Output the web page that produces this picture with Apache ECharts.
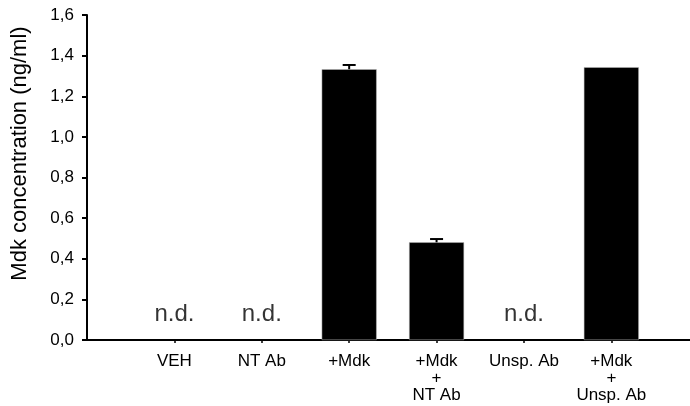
<!DOCTYPE html>
<html>
<head>
<meta charset="utf-8">
<script src="https://cdn.jsdelivr.net/npm/echarts@6/dist/echarts.min.js"></script>
<style>
  html, body { margin: 0; padding: 0; background: #fff; }
  #main { width: 690px; height: 406px; }
</style>
</head>
<body>
<div id="main"></div>
<script>
// groups along the x axis
var categories = ['VEH', 'NT Ab', '+Mdk', '+Mdk\n+\nNT Ab', 'Unsp. Ab', '+Mdk\n+\nUnsp. Ab'];
// Mdk concentration (ng/ml), null = not detected
var means = [null, null, 1.333, 0.481, null, 1.343];
var errors = [null, null, 0.021, 0.016, null, 0];
var yTicks = [0, 0.2, 0.4, 0.6, 0.8, 1.0, 1.2, 1.4, 1.6];

var font = 'Liberation Sans, Arial, sans-serif';

var barData = [];
var errData = [];
var ndData = [];
var xPos = [];
categories.forEach(function (c, i) {
  var x = i + 1;
  xPos.push(x);
  if (means[i] == null) {
    ndData.push([x, 0]);
  } else {
    barData.push([x, means[i]]);
    if (errors[i] > 0) errData.push([x, means[i], errors[i]]);
  }
});

var chart = echarts.init(document.getElementById('main'));

var option = {
  animation: false,
  grid: { left: 87, right: 0, top: 15, bottom: 66, outerBoundsMode: 'none' },
  xAxis: {
    type: 'value',
    min: 0,
    max: 6.9,
    interval: 1,
    splitLine: { show: false },
    axisLine: { show: true, onZero: false, lineStyle: { color: '#000', width: 2 } },
    axisTick: { show: true, length: 3, customValues: xPos, lineStyle: { color: '#000', width: 1.5 } },
    axisLabel: {
      color: '#000',
      fontFamily: font,
      fontSize: 17,
      lineHeight: 17,
      margin: 13,
      customValues: xPos,
      formatter: function (v) {
        return categories[v - 1] || '';
      }
    }
  },
  yAxis: {
    type: 'value',
    min: yTicks[0],
    max: yTicks[yTicks.length - 1],
    interval: 0.2,
    splitLine: { show: false },
    name: 'Mdk concentration (ng/ml)',
    nameLocation: 'middle',
    nameGap: 56,
    nameTextStyle: { color: '#000', fontFamily: font, fontSize: 22, padding: [0, 0, 0, 48] },
    axisLine: { show: true, lineStyle: { color: '#000', width: 2 } },
    axisTick: { show: true, length: 5, lineStyle: { color: '#000', width: 2 } },
    axisLabel: {
      color: '#000',
      fontFamily: font,
      fontSize: 17,
      margin: 13,
      formatter: function (v) {
        return v.toFixed(1).replace('.', ',');
      }
    }
  },
  series: [
    {
      type: 'bar',
      data: barData,
      barWidth: 55,
      itemStyle: { color: '#000', borderColor: '#bbb', borderWidth: 0.5 }
    },
    {
      type: 'custom',
      data: errData,
      z: 3,
      renderItem: function (params, api) {
        var x = api.value(0);
        var top = api.coord([x, api.value(1) + api.value(2)]);
        var base = api.coord([x, api.value(1)]);
        var style = { stroke: '#000', lineWidth: 2 };
        return {
          type: 'group',
          children: [
            { type: 'line', shape: { x1: top[0], y1: top[1], x2: base[0], y2: base[1] }, style: style },
            { type: 'line', shape: { x1: top[0] - 6.5, y1: top[1], x2: top[0] + 6.5, y2: top[1] }, style: style }
          ]
        };
      }
    },
    {
      type: 'scatter',
      data: ndData,
      symbolSize: 1,
      itemStyle: { color: 'rgba(0,0,0,0)' },
      label: {
        show: true,
        position: 'top',
        distance: 13,
        formatter: 'n.d.',
        color: '#000',
        fontFamily: font,
        fontSize: 24
      }
    }
  ]
};

chart.setOption(option);
</script>
</body>
</html>
